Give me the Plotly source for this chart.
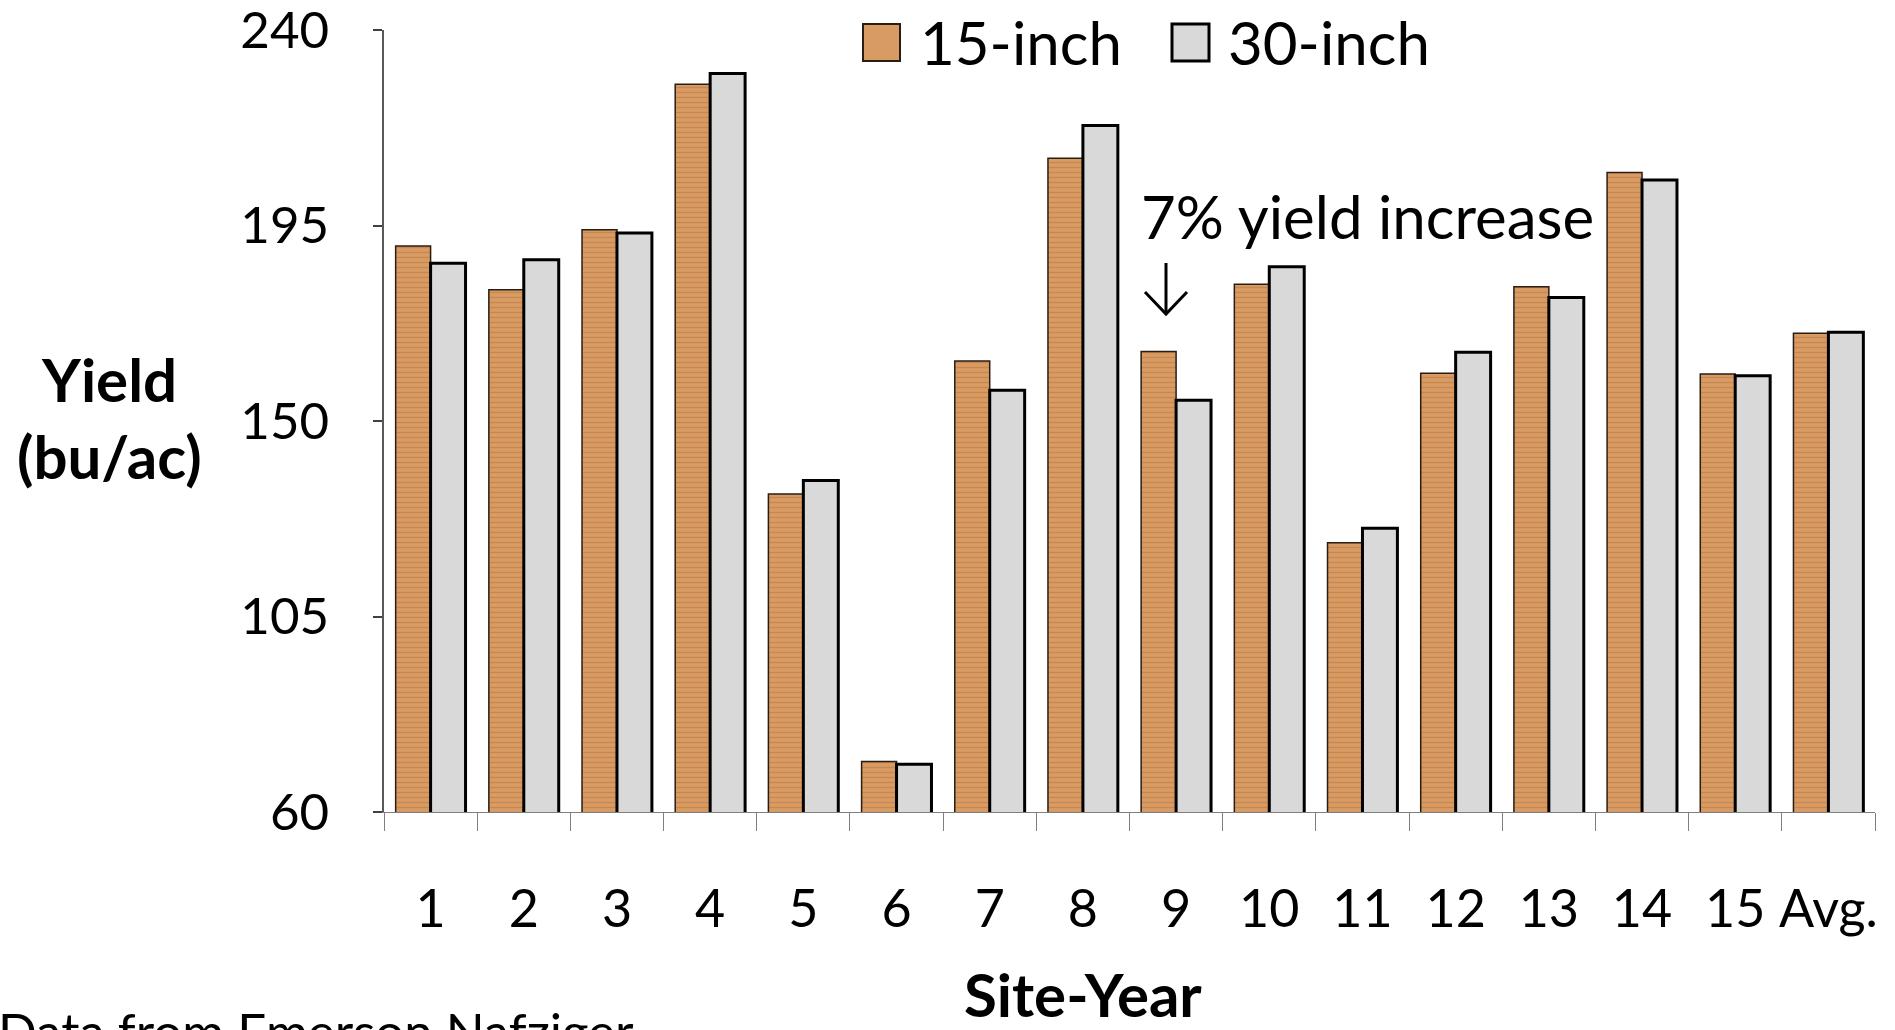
import plotly.graph_objects as go

# ---- data ----
site_labels = ["1", "2", "3", "4", "5", "6", "7", "8", "9", "10", "11", "12", "13", "14", "15", "Avg."]
yield_15in = [190.3, 180.2, 194.0, 227.5, 133.2, 71.6, 163.8, 210.5, 166.0, 181.5, 122.0, 161.0, 180.9, 207.2, 160.8, 170.2]
yield_30in = [186.3, 187.1, 193.3, 230.0, 136.3, 71.0, 157.1, 218.0, 154.8, 185.5, 125.3, 165.8, 178.4, 205.5, 160.4, 170.4]
series_names = ["15-inch", "30-inch"]
y_ticks = [60, 105, 150, 195, 240]

FONT = "Lato"
W, H = 1895, 1030
ML, MR, MT, MB = 384, 20, 30, 218
PW, PH = W - ML - MR, H - MT - MB


def px(x):
    return (x - ML) / PW


def py(y):
    return (H - MB - y) / PH


WOOD = "#D89B63"
WOOD_GRAIN = "#B5733C"
GRAY = "#D9D9D9"

fig = go.Figure()
fig.add_trace(go.Bar(
    x=site_labels, y=yield_15in, name=series_names[0], showlegend=False,
    marker=dict(color=WOOD, line=dict(color="#2a1e14", width=1.5),
                pattern=dict(shape="-", bgcolor=WOOD, fgcolor=WOOD_GRAIN, size=5, solidity=0.25)),
))
fig.add_trace(go.Bar(
    x=site_labels, y=yield_30in, name=series_names[1], showlegend=False,
    marker=dict(color=GRAY, line=dict(color="black", width=3)),
))

shapes = []
annotations = []

# manual legend
shapes.append(dict(type="rect", xref="paper", yref="paper",
                   x0=px(863), x1=px(900), y0=py(61), y1=py(24),
                   fillcolor=WOOD, line=dict(color="#2a1e14", width=2)))
shapes.append(dict(type="rect", xref="paper", yref="paper",
                   x0=px(1172), x1=px(1209), y0=py(61), y1=py(24),
                   fillcolor=GRAY, line=dict(color="black", width=3)))
annotations.append(dict(text=series_names[0], xref="paper", yref="paper", x=px(918), y=py(42),
                        xanchor="left", yanchor="middle", showarrow=False,
                        font=dict(family=FONT, size=60, color="black")))
annotations.append(dict(text=series_names[1], xref="paper", yref="paper", x=px(1226), y=py(42),
                        xanchor="left", yanchor="middle", showarrow=False,
                        font=dict(family=FONT, size=60, color="black")))

# callout
annotations.append(dict(text="7% yield increase", xref="paper", yref="paper", x=px(1139), y=py(216),
                        xanchor="left", yanchor="middle", showarrow=False,
                        font=dict(family=FONT, size=60, color="black")))
shapes.append(dict(type="path", xref="paper", yref="paper",
                   path=f"M {px(1166)} {py(263)} L {px(1166)} {py(313)}",
                   line=dict(color="black", width=3)))
shapes.append(dict(type="path", xref="paper", yref="paper",
                   path=f"M {px(1145)} {py(292)} L {px(1166)} {py(314)} L {px(1187)} {py(292)}",
                   line=dict(color="black", width=3)))

# axis titles
annotations.append(dict(text="<b>Yield</b>", xref="paper", yref="paper", x=px(109), y=py(379),
                        xanchor="center", yanchor="middle", showarrow=False,
                        font=dict(family=FONT, size=60, color="black")))
annotations.append(dict(text="<b>(bu/ac)</b>", xref="paper", yref="paper", x=px(109), y=py(456),
                        xanchor="center", yanchor="middle", showarrow=False,
                        font=dict(family=FONT, size=60, color="black")))
annotations.append(dict(text="<b>Site-Year</b>", xref="paper", yref="paper", x=px(1083), y=py(994),
                        xanchor="center", yanchor="middle", showarrow=False,
                        font=dict(family=FONT, size=60, color="black")))
annotations.append(dict(text="Data from Emerson Nafziger", xref="paper", yref="paper", x=px(-4), y=py(1030),
                        xanchor="left", yanchor="middle", showarrow=False,
                        font=dict(family=FONT, size=51, color="black")))

fig.update_layout(
    width=W, height=H, autosize=False,
    margin=dict(l=ML, r=MR, t=MT, b=MB, pad=0, autoexpand=False),
    paper_bgcolor="white", plot_bgcolor="white",
    barmode="group", bargap=0.25, bargroupgap=0,
    shapes=shapes, annotations=annotations,
    font=dict(family=FONT, color="black"),
)
fig.update_xaxes(
    type="category", showgrid=False, zeroline=False, automargin=False,
    showline=True, linecolor="#7f7f7f", linewidth=1,
    ticks="outside", tickson="boundaries", ticklen=18, tickcolor="#7f7f7f", tickwidth=1,
    tickangle=0, ticklabeloverflow="allow",
    tickfont=dict(family=FONT, size=52, color="black"), ticklabelstandoff=52,
)
fig.update_yaxes(
    range=[59.999, 240.001], tickvals=y_ticks, ticktext=[str(v) for v in y_ticks],
    showgrid=False, zeroline=False, automargin=False,
    showline=True, linecolor="#595959", linewidth=1.5,
    ticks="outside", ticklen=9, tickcolor="#404040", tickwidth=1.5,
    ticklabeloverflow="allow",
    tickfont=dict(family=FONT, size=51, color="black"), ticklabelstandoff=34,
)

fig.write_html("out.html", config={"displayModeBar": False},
               post_script="document.body.style.margin='0';document.body.style.overflow='hidden';")
